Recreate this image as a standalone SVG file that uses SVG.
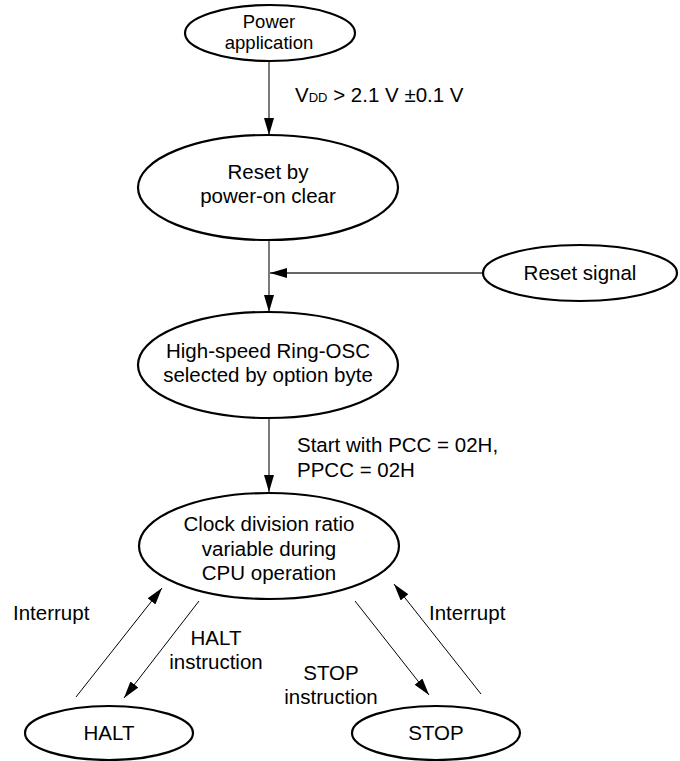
<svg xmlns="http://www.w3.org/2000/svg" width="680" height="761" viewBox="0 0 680 761">
<style>
.node ellipse{fill:#fff;stroke:#000;stroke-width:2.2}
text{font-family:"Liberation Sans",Arial,sans-serif;font-size:20.5px;fill:#000}
.t{text-anchor:middle}
.v{stroke:#333;stroke-width:1.3;fill:none}
.d{stroke:#000;stroke-width:1;fill:none}
</style>
<defs>
<marker id="ah" markerUnits="userSpaceOnUse" markerWidth="17" markerHeight="10" refX="17" refY="5" orient="auto">
<path d="M0,0 L17,5 L0,10 z" fill="#000"/>
</marker>
<marker id="ah2" markerUnits="userSpaceOnUse" markerWidth="17" markerHeight="10" refX="17" refY="5" orient="auto">
<path d="M0,0 L17,5 L0,10 z" fill="#000"/>
</marker>
</defs>
<g id="connectors">
<line class="v" x1="269" y1="62" x2="269" y2="135" marker-end="url(#ah)"/>
<line class="v" x1="269" y1="240" x2="269" y2="312" marker-end="url(#ah)"/>
<line class="v" x1="483" y1="273" x2="270" y2="273" marker-end="url(#ah2)"/>
<line class="v" x1="269" y1="418" x2="269" y2="492" marker-end="url(#ah)"/>
<line class="d" x1="76" y1="697" x2="162" y2="588" marker-end="url(#ah2)"/>
<line class="d" x1="199" y1="601" x2="124" y2="698" marker-end="url(#ah2)"/>
<line class="d" x1="355" y1="601" x2="429" y2="695" marker-end="url(#ah2)"/>
<line class="d" x1="481" y1="694" x2="394" y2="584" marker-end="url(#ah2)"/>
</g>
<g id="labels">
<text x="295" y="102">V<tspan font-size="13">DD</tspan> &gt; 2.1 V ±0.1 V</text>
<text x="297" y="452">Start with PCC = 02H,</text>
<text x="297" y="477">PPCC = 02H</text>
<text x="13" y="620">Interrupt</text>
<text class="t" x="216" y="645">HALT</text>
<text class="t" x="216" y="669">instruction</text>
<text class="t" x="331" y="680">STOP</text>
<text class="t" x="331" y="704">instruction</text>
<text x="429" y="620">Interrupt</text>
</g>
<g id="power" class="node">
<ellipse cx="270" cy="33" rx="85" ry="28"/>
<text class="t" x="269" y="28" style="font-size:18.5px">Power</text>
<text class="t" x="269" y="48.5" style="font-size:18.5px">application</text>
</g>
<g id="reset-poc" class="node">
<ellipse cx="268" cy="187.5" rx="130" ry="52.5"/>
<text class="t" x="268" y="179">Reset by</text>
<text class="t" x="268" y="203">power-on clear</text>
</g>
<g id="reset-signal" class="node">
<ellipse cx="580" cy="273" rx="97" ry="28"/>
<text class="t" x="580" y="280">Reset signal</text>
</g>
<g id="ring-osc" class="node">
<ellipse cx="268" cy="365" rx="130" ry="53"/>
<text class="t" x="268" y="358">High-speed Ring-OSC</text>
<text class="t" x="268" y="382">selected by option byte</text>
</g>
<g id="clock" class="node">
<ellipse cx="269" cy="546" rx="130" ry="53"/>
<text class="t" x="269" y="531">Clock division ratio</text>
<text class="t" x="269" y="555.5">variable during</text>
<text class="t" x="269" y="580">CPU operation</text>
</g>
<g id="halt" class="node">
<ellipse cx="109" cy="733" rx="84" ry="27"/>
<text class="t" x="109" y="740">HALT</text>
</g>
<g id="stop" class="node">
<ellipse cx="436" cy="733" rx="84" ry="27"/>
<text class="t" x="436" y="740">STOP</text>
</g>
</svg>
